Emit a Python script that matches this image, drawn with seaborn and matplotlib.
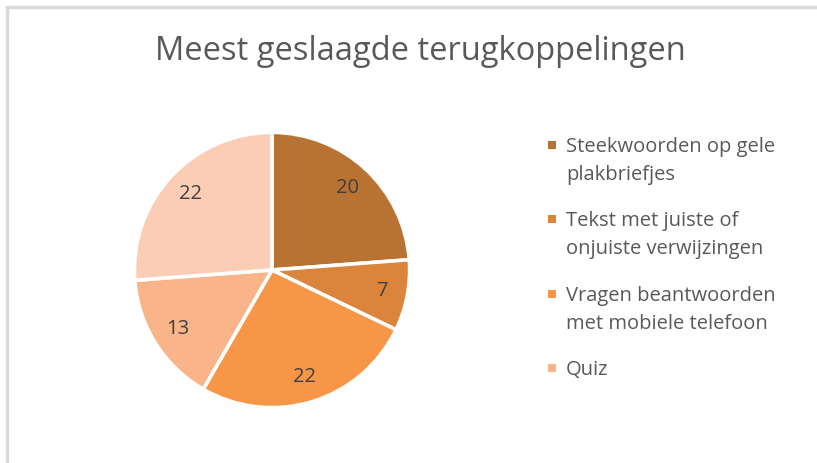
import matplotlib.pyplot as plt
import matplotlib.patches as mpatches
import seaborn as sns

title = 'Meest geslaagde terugkoppelingen'
labels = ['Steekwoorden op gele\nplakbriefjes',
          'Tekst met juiste of\nonjuiste verwijzingen',
          'Vragen beantwoorden\nmet mobiele telefoon',
          'Quiz',
          '']
values = [20, 7, 22, 13, 22]
colors = ['#B87333', '#DA843C', '#F79646', '#F9B48A', '#FBCDB5']

sns.set_theme(style='white')
plt.rcParams['font.family'] = ['Open Sans', 'DejaVu Sans']
text_color = '#595959'
W, H = 817, 463

fig = plt.figure(figsize=(8.17, 4.63), dpi=100)
fig.patch.set_facecolor('white')

# grey frame of the chart area
fig.patches.append(mpatches.Rectangle((7/W, -0.05), 1.2, 1 - 7/H + 0.05,
                                      transform=fig.transFigure, fill=False,
                                      edgecolor='#D9D9D9', linewidth=2.5))

ax = fig.add_axes([133/W, 54/H, 278/W, 278/H])
wedges, texts, autotexts = ax.pie(
    values, colors=colors, startangle=90, counterclock=False,
    autopct=lambda p: '%d' % round(p * sum(values) / 100),
    pctdistance=0.81,
    wedgeprops=dict(edgecolor='white', linewidth=2.6),
    textprops=dict(color='#404040', fontsize=14.5))
ax.set_xlim(-1.01, 1.01)
ax.set_ylim(-1.01, 1.01)
ax.set_aspect('equal')

fig.text(420/W, 1 - 52/H, title, ha='center', va='center',
         fontsize=23.5, color=text_color)

# legend like Excel: square aligned with first line of each entry
# (only the first four categories are shown, as in the original)
top, step, line_h, box = 145, 74.3, 28, 8
for i, (lab, col) in enumerate(zip(labels[:4], colors[:4])):
    yc = top + i * step
    fig.patches.append(mpatches.Rectangle(((552 - box / 2) / W, 1 - (yc + box / 2) / H),
                                          box / W, box / H, transform=fig.transFigure,
                                          facecolor=col, edgecolor='none'))
    for j, line in enumerate(lab.split('\n')):
        fig.text(566 / W, 1 - (yc + 2 + j * line_h) / H, line, ha='left',
                 va='center', fontsize=14.5, color=text_color)

plt.savefig('out.png', dpi=100)
